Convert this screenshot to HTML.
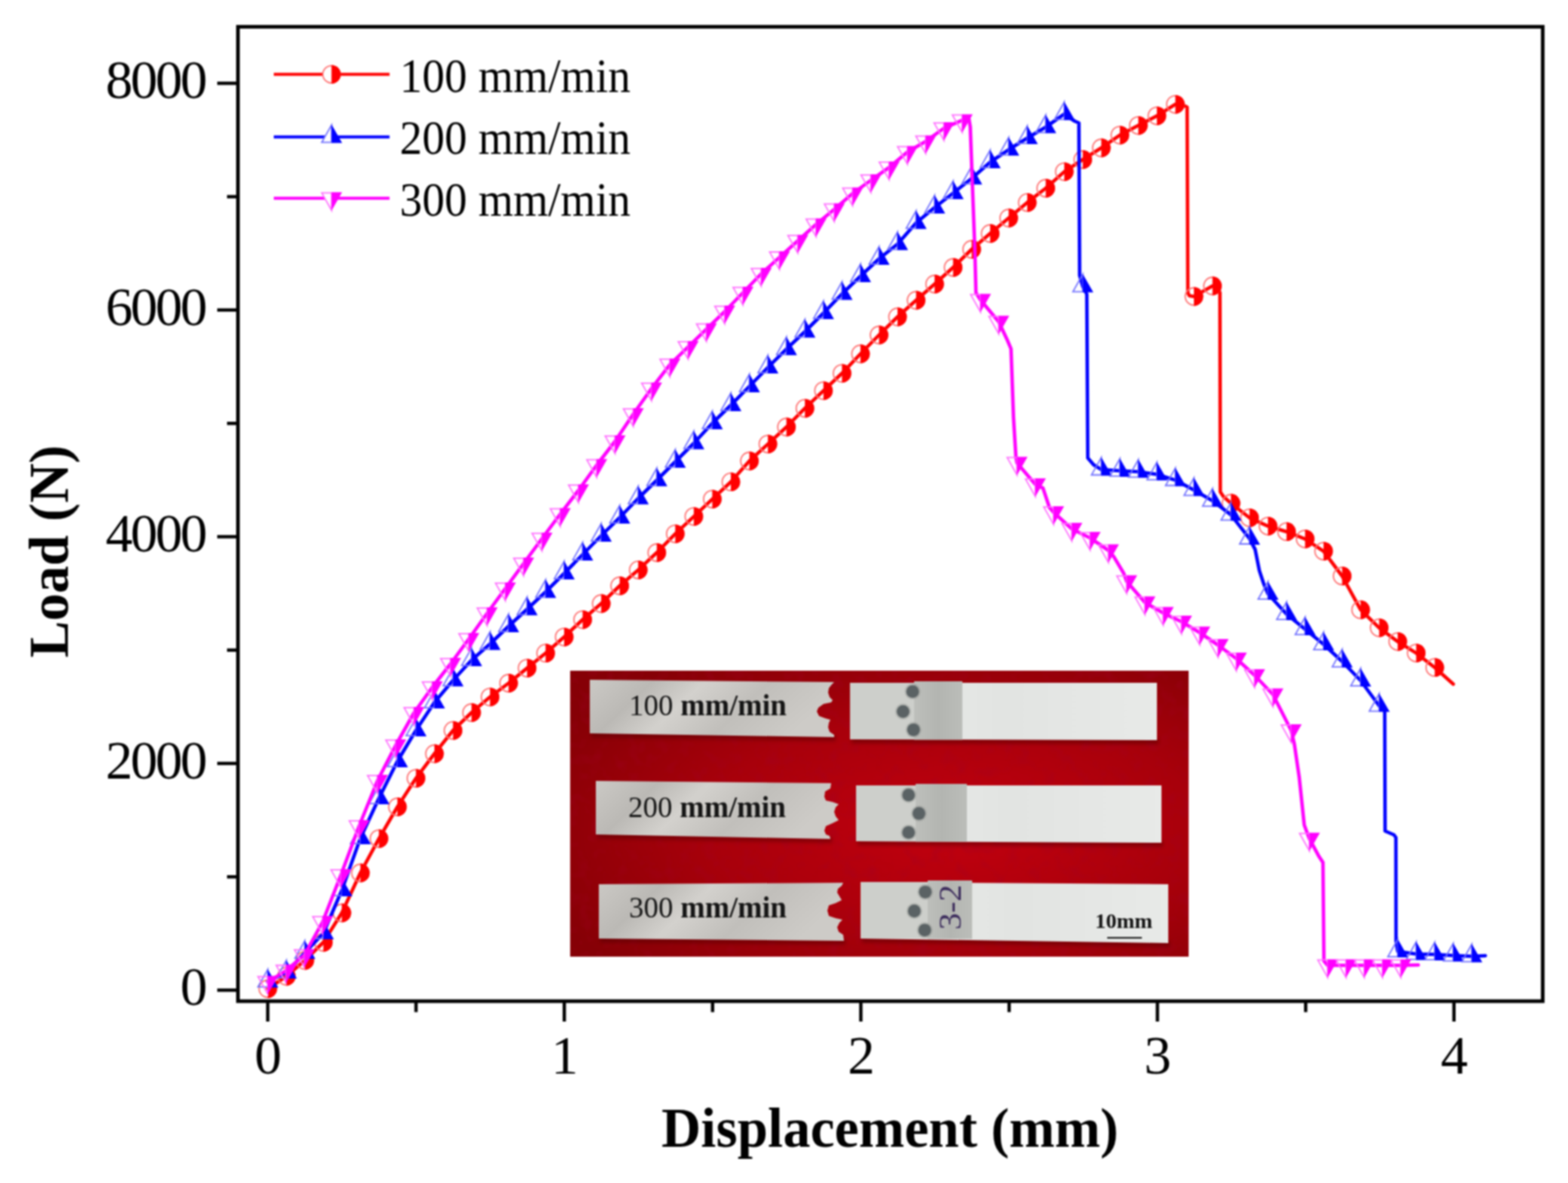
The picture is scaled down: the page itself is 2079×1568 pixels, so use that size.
<!DOCTYPE html>
<html><head><meta charset="utf-8"><title>Load vs Displacement</title>
<style>html,body{margin:0;padding:0;background:#fff;}svg{display:block;}#wrap{width:2079px;height:1568px;filter:blur(1px);}</style>
</head><body><div id="wrap">
<svg width="2079" height="1568" viewBox="0 0 2079 1568"><rect x="0" y="0" width="2079" height="1568" fill="#fff"/>
<defs>
<filter id="blur3" x="-5%" y="-50%" width="110%" height="200%"><feGaussianBlur stdDeviation="2.5"/></filter>
<radialGradient id="velvet" cx="0.62" cy="0.55" r="0.72">
  <stop offset="0" stop-color="#c2000f"/>
  <stop offset="0.55" stop-color="#a8000b"/>
  <stop offset="1" stop-color="#860006"/>
</radialGradient>
<filter id="velnoise" x="0" y="0" width="100%" height="100%">
  <feTurbulence type="fractalNoise" baseFrequency="0.06" numOctaves="2" seed="7" result="n"/>
  <feColorMatrix in="n" type="matrix" values="0 0 0 0 0.35  0 0 0 0 0  0 0 0 0 0.02  1.6 0 0 0 -0.75" result="c"/>
  <feComposite in="c" in2="SourceGraphic" operator="in"/>
</filter>
<linearGradient id="metalL" x1="0" y1="0" x2="1" y2="0.25">
  <stop offset="0" stop-color="#cbc9c5"/>
  <stop offset="0.25" stop-color="#bbb9b5"/>
  <stop offset="0.45" stop-color="#d3d1cd"/>
  <stop offset="0.7" stop-color="#c1bfbb"/>
  <stop offset="1" stop-color="#cdcbc7"/>
</linearGradient>
<linearGradient id="metalD" x1="0" y1="0" x2="1" y2="0">
  <stop offset="0" stop-color="#bdbfbb"/>
  <stop offset="0.5" stop-color="#b3b5b1"/>
  <stop offset="1" stop-color="#bbbdb9"/>
</linearGradient>
<linearGradient id="metalB" x1="0" y1="0" x2="1" y2="0">
  <stop offset="0" stop-color="#eceeec"/>
  <stop offset="0.5" stop-color="#e2e4e2"/>
  <stop offset="1" stop-color="#e8eae8"/>
</linearGradient>
</defs>
<rect x="756" y="889" width="820" height="379" fill="url(#velvet)"/>
<rect x="756" y="889" width="820" height="379" fill="#000" filter="url(#velnoise)" opacity="0.5"/>
<path d="M784.0,970.0 L1108.0,975.0 L1108.0,982.0 L784.0,977.0 Z" fill="#4a0004" opacity="0.45" filter="url(#blur3)"/>
<path d="M782.0,901.0 L1106.0,904.0 L1103.0,907.0 L1099.0,912.0 L1098.0,918.0 L1100.0,924.0 L1104.0,928.0 L1102.0,931.0 L1092.0,933.0 L1085.0,938.0 L1083.0,943.0 L1086.0,949.0 L1094.0,952.0 L1101.0,954.0 L1099.0,958.0 L1098.0,964.0 L1100.0,970.0 L1106.0,974.0 L1106.0,977.0 L782.0,972.0 Z" fill="url(#metalL)"/>
<path d="M792.0,1104.0 L1103.0,1110.0 L1103.0,1117.0 L792.0,1111.0 Z" fill="#4a0004" opacity="0.45" filter="url(#blur3)"/>
<path d="M790.0,1035.0 L1102.0,1038.0 L1101.0,1045.0 L1094.0,1049.0 L1093.0,1056.0 L1095.0,1061.0 L1104.0,1063.0 L1112.0,1066.0 L1108.0,1070.0 L1106.0,1076.0 L1108.0,1082.0 L1112.0,1087.0 L1104.0,1091.0 L1095.0,1095.0 L1093.0,1101.0 L1095.0,1106.0 L1100.0,1108.0 L1101.0,1112.0 L790.0,1106.0 Z" fill="url(#metalL)"/>
<path d="M796.0,1242.0 L1121.0,1245.0 L1121.0,1252.0 L796.0,1249.0 Z" fill="#4a0004" opacity="0.45" filter="url(#blur3)"/>
<path d="M794.0,1172.0 L1118.0,1170.0 L1116.0,1174.0 L1111.0,1178.0 L1110.0,1183.0 L1113.0,1188.0 L1116.0,1193.0 L1108.0,1197.0 L1099.0,1200.0 L1097.0,1207.0 L1099.0,1214.0 L1108.0,1217.0 L1117.0,1219.0 L1113.0,1223.0 L1110.0,1229.0 L1112.0,1235.0 L1118.0,1239.0 L1119.0,1247.0 L794.0,1244.0 Z" fill="url(#metalL)"/>
<path d="M1129.0,978.0 L1536.0,979.0 L1536.0,986.0 L1129.0,985.0 Z" fill="#4a0004" opacity="0.45" filter="url(#blur3)"/>
<path d="M1127.0,905.0 L1534.0,905.0 L1534.0,981.0 L1127.0,980.0 Z" fill="url(#metalB)"/>
<path d="M1127.0,905.0 L1212.0,905.0 L1212.0,980.0 L1127.0,980.0 Z" fill="#cdcfcb"/>
<path d="M1212.0,903.0 L1276.0,903.0 L1276.0,980.5 L1212.0,980.5 Z" fill="url(#metalD)"/>
<path d="M1137.0,1113.0 L1542.0,1115.0 L1542.0,1122.0 L1137.0,1120.0 Z" fill="#4a0004" opacity="0.45" filter="url(#blur3)"/>
<path d="M1135.0,1041.0 L1540.0,1041.0 L1540.0,1117.0 L1135.0,1115.0 Z" fill="url(#metalB)"/>
<path d="M1135.0,1041.0 L1214.0,1041.0 L1214.0,1115.0 L1135.0,1115.0 Z" fill="#cdcfcb"/>
<path d="M1214.0,1039.0 L1282.0,1039.0 L1282.0,1115.5 L1214.0,1115.5 Z" fill="url(#metalD)"/>
<path d="M1143.0,1242.0 L1551.0,1248.0 L1551.0,1255.0 L1143.0,1249.0 Z" fill="#4a0004" opacity="0.45" filter="url(#blur3)"/>
<path d="M1141.0,1169.0 L1549.0,1172.0 L1549.0,1250.0 L1141.0,1244.0 Z" fill="url(#metalB)"/>
<path d="M1141.0,1169.0 L1230.0,1169.0 L1230.0,1244.0 L1141.0,1244.0 Z" fill="#cdcfcb"/>
<path d="M1230.0,1167.0 L1289.0,1167.0 L1289.0,1244.5 L1230.0,1244.5 Z" fill="url(#metalD)"/>
<circle cx="1210.0" cy="916.6" r="10.5" fill="#7a7e7c" opacity="0.35"/>
<circle cx="1210.0" cy="916.6" r="8.4" fill="#5a6264"/>
<circle cx="1197.4" cy="943.1" r="10.5" fill="#7a7e7c" opacity="0.35"/>
<circle cx="1197.4" cy="943.1" r="8.4" fill="#5a6264"/>
<circle cx="1211.2" cy="967.3" r="10.5" fill="#7a7e7c" opacity="0.35"/>
<circle cx="1211.2" cy="967.3" r="8.4" fill="#5a6264"/>
<circle cx="1204.7" cy="1053.7" r="10.5" fill="#7a7e7c" opacity="0.35"/>
<circle cx="1204.7" cy="1053.7" r="8.4" fill="#5a6264"/>
<circle cx="1218.4" cy="1078.2" r="10.5" fill="#7a7e7c" opacity="0.35"/>
<circle cx="1218.4" cy="1078.2" r="8.4" fill="#5a6264"/>
<circle cx="1204.7" cy="1103.4" r="10.5" fill="#7a7e7c" opacity="0.35"/>
<circle cx="1204.7" cy="1103.4" r="8.4" fill="#5a6264"/>
<circle cx="1226.8" cy="1182.3" r="10.5" fill="#7a7e7c" opacity="0.35"/>
<circle cx="1226.8" cy="1182.3" r="8.4" fill="#5a6264"/>
<circle cx="1212.3" cy="1207.5" r="10.5" fill="#7a7e7c" opacity="0.35"/>
<circle cx="1212.3" cy="1207.5" r="8.4" fill="#5a6264"/>
<circle cx="1226.1" cy="1232.8" r="10.5" fill="#7a7e7c" opacity="0.35"/>
<circle cx="1226.1" cy="1232.8" r="8.4" fill="#5a6264"/>
<text x="834.0" y="948.0" style="font-family:'Liberation Serif','Times New Roman',serif;font-size:41px" fill="#151515" textLength="209" lengthAdjust="spacingAndGlyphs">100 <tspan font-weight="bold">mm/min</tspan></text>
<text x="833.0" y="1083.0" style="font-family:'Liberation Serif','Times New Roman',serif;font-size:41px" fill="#151515" textLength="209" lengthAdjust="spacingAndGlyphs">200 <tspan font-weight="bold">mm/min</tspan></text>
<text x="834.0" y="1215.5" style="font-family:'Liberation Serif','Times New Roman',serif;font-size:41px" fill="#151515" textLength="209" lengthAdjust="spacingAndGlyphs">300 <tspan font-weight="bold">mm/min</tspan></text>
<text x="1452" y="1230" style="font-family:'Liberation Serif','Times New Roman',serif;font-size:27px;font-weight:bold" fill="#111" textLength="76" lengthAdjust="spacingAndGlyphs">10mm</text>
<line x1="1468" y1="1243" x2="1514" y2="1243" stroke="#111" stroke-width="2"/>
<text transform="translate(1274,1202.5) rotate(-90)" style="font-family:'Liberation Serif','Times New Roman',serif;font-size:42px" fill="#3c2c5c" text-anchor="middle" textLength="60" lengthAdjust="spacingAndGlyphs">3-2</text>
<rect x="315.5" y="35.5" width="1730" height="1291.5" fill="none" stroke="#000" stroke-width="4.8"/>
<line x1="355.0" y1="1327" x2="355.0" y2="1354.0" stroke="#000" stroke-width="4.4"/>
<line x1="551.6" y1="1327" x2="551.6" y2="1341.5" stroke="#000" stroke-width="4.4"/>
<line x1="748.2" y1="1327" x2="748.2" y2="1354.0" stroke="#000" stroke-width="4.4"/>
<line x1="944.8" y1="1327" x2="944.8" y2="1341.5" stroke="#000" stroke-width="4.4"/>
<line x1="1141.4" y1="1327" x2="1141.4" y2="1354.0" stroke="#000" stroke-width="4.4"/>
<line x1="1338.0" y1="1327" x2="1338.0" y2="1341.5" stroke="#000" stroke-width="4.4"/>
<line x1="1534.6" y1="1327" x2="1534.6" y2="1354.0" stroke="#000" stroke-width="4.4"/>
<line x1="1731.2" y1="1327" x2="1731.2" y2="1341.5" stroke="#000" stroke-width="4.4"/>
<line x1="1927.8" y1="1327" x2="1927.8" y2="1354.0" stroke="#000" stroke-width="4.4"/>
<line x1="288.0" y1="1312.4" x2="315.5" y2="1312.4" stroke="#000" stroke-width="4.4"/>
<line x1="301.0" y1="1162.2" x2="315.5" y2="1162.2" stroke="#000" stroke-width="4.4"/>
<line x1="288.0" y1="1011.9" x2="315.5" y2="1011.9" stroke="#000" stroke-width="4.4"/>
<line x1="301.0" y1="861.7" x2="315.5" y2="861.7" stroke="#000" stroke-width="4.4"/>
<line x1="288.0" y1="711.4" x2="315.5" y2="711.4" stroke="#000" stroke-width="4.4"/>
<line x1="301.0" y1="561.2" x2="315.5" y2="561.2" stroke="#000" stroke-width="4.4"/>
<line x1="288.0" y1="410.9" x2="315.5" y2="410.9" stroke="#000" stroke-width="4.4"/>
<line x1="301.0" y1="260.7" x2="315.5" y2="260.7" stroke="#000" stroke-width="4.4"/>
<line x1="288.0" y1="110.4" x2="315.5" y2="110.4" stroke="#000" stroke-width="4.4"/>
<text x="355.5" y="1423" text-anchor="middle" style="font-family:'Liberation Serif','Times New Roman',serif;font-size:72px" fill="#000">0</text>
<text x="748.7" y="1423" text-anchor="middle" style="font-family:'Liberation Serif','Times New Roman',serif;font-size:72px" fill="#000">1</text>
<text x="1141.9" y="1423" text-anchor="middle" style="font-family:'Liberation Serif','Times New Roman',serif;font-size:72px" fill="#000">2</text>
<text x="1535.1" y="1423" text-anchor="middle" style="font-family:'Liberation Serif','Times New Roman',serif;font-size:72px" fill="#000">3</text>
<text x="1928.3" y="1423" text-anchor="middle" style="font-family:'Liberation Serif','Times New Roman',serif;font-size:72px" fill="#000">4</text>
<text x="272.0" y="1332.1" text-anchor="end" style="font-family:'Liberation Serif','Times New Roman',serif;font-size:72px;letter-spacing:-3px" fill="#000">0</text>
<text x="272.0" y="1031.6" text-anchor="end" style="font-family:'Liberation Serif','Times New Roman',serif;font-size:72px;letter-spacing:-3px" fill="#000">2000</text>
<text x="272.0" y="731.1" text-anchor="end" style="font-family:'Liberation Serif','Times New Roman',serif;font-size:72px;letter-spacing:-3px" fill="#000">4000</text>
<text x="272.0" y="430.6" text-anchor="end" style="font-family:'Liberation Serif','Times New Roman',serif;font-size:72px;letter-spacing:-3px" fill="#000">6000</text>
<text x="272.0" y="130.1" text-anchor="end" style="font-family:'Liberation Serif','Times New Roman',serif;font-size:72px;letter-spacing:-3px" fill="#000">8000</text>
<text x="1180" y="1520" text-anchor="middle" style="font-family:'Liberation Serif','Times New Roman',serif;font-size:73px;font-weight:bold" fill="#000" textLength="606" lengthAdjust="spacingAndGlyphs">Displacement (mm)</text>
<text transform="translate(90.2,730.8) rotate(-90)" text-anchor="middle" style="font-family:'Liberation Serif','Times New Roman',serif;font-size:74px;font-weight:bold" fill="#000" textLength="282" lengthAdjust="spacingAndGlyphs">Load (N)</text>
<line x1="363" y1="98.6" x2="516.5" y2="98.6" stroke="#ff0000" stroke-width="4"/>
<circle cx="439.5" cy="98.6" r="11.5" fill="#fff" stroke="#ff7070" stroke-width="1.8"/><path d="M439.5,86.2 A12.4,12.4 0 0 1 439.5,111.0 Z" fill="#ff0000"/>
<text x="530.0" y="122.3" style="font-family:'Liberation Serif','Times New Roman',serif;font-size:64px" fill="#000" textLength="306.0" lengthAdjust="spacingAndGlyphs">100 mm/min</text>
<line x1="363" y1="181.6" x2="516.5" y2="181.6" stroke="#0000ff" stroke-width="4"/>
<path d="M439.6,165.6 L426.6,188.7 L439.6,188.7 Z" fill="#fff" stroke="#7070ff" stroke-width="1.8" stroke-linejoin="miter"/><path d="M439.6,165.1 L453.6,189.6 L439.6,189.6 Z" fill="#0000ff"/>
<text x="530.0" y="203.7" style="font-family:'Liberation Serif','Times New Roman',serif;font-size:64px" fill="#000" textLength="306.0" lengthAdjust="spacingAndGlyphs">200 mm/min</text>
<line x1="363" y1="262.7" x2="516.5" y2="262.7" stroke="#ff00ff" stroke-width="4"/>
<path d="M439.6,278.7 L426.6,255.6 L439.6,255.6 Z" fill="#fff" stroke="#ff70ff" stroke-width="1.8" stroke-linejoin="miter"/><path d="M439.6,279.2 L453.6,254.7 L439.6,254.7 Z" fill="#ff00ff"/>
<text x="530.0" y="286.0" style="font-family:'Liberation Serif','Times New Roman',serif;font-size:64px" fill="#000" textLength="306.0" lengthAdjust="spacingAndGlyphs">300 mm/min</text>
<polyline points="355.0,1310.5 379.6,1294.0 404.1,1273.0 428.7,1249.0 453.2,1210.0 477.8,1157.0 502.4,1111.6 526.9,1069.5 551.5,1031.6 576.0,999.0 600.6,968.2 625.2,944.5 649.7,923.8 674.3,905.5 698.8,885.6 723.4,865.7 748.0,844.3 772.5,821.3 797.1,800.0 821.6,776.5 846.2,755.4 870.8,732.5 895.3,707.6 919.9,684.6 944.4,661.6 969.0,638.7 993.6,611.0 1018.1,588.6 1042.7,566.0 1067.2,541.2 1091.8,517.8 1116.4,494.8 1140.9,469.0 1165.5,444.0 1190.0,420.0 1214.6,398.0 1239.2,376.5 1263.7,354.5 1288.3,330.5 1312.8,309.5 1337.4,289.0 1362.0,268.4 1386.5,249.5 1411.1,227.6 1435.6,211.5 1460.2,196.0 1484.8,179.1 1509.3,166.3 1533.9,153.6 1558.4,138.3 1569.0,139.5 1574.0,142.0 1575.0,388.0 1577.0,392.0 1583.0,393.0 1607.6,379.0 1614.5,381.0 1617.5,388.0 1618.0,652.0 1622.0,658.0 1632.1,667.0 1656.7,686.3 1681.2,697.3 1705.8,704.7 1730.4,714.3 1754.9,730.6 1779.5,763.5 1804.0,808.2 1828.6,832.1 1853.2,850.3 1877.7,865.6 1902.3,884.7 1926.9,906.7" fill="none" stroke="#ff0000" stroke-width="4.6" stroke-linejoin="round" stroke-linecap="round"/>
<circle cx="355.0" cy="1310.5" r="11.5" fill="none" stroke="#ff7070" stroke-width="1.8"/><path d="M355.0,1298.1 A12.4,12.4 0 0 1 355.0,1322.9 Z" fill="#ff0000"/>
<circle cx="379.6" cy="1294.0" r="11.5" fill="none" stroke="#ff7070" stroke-width="1.8"/><path d="M379.6,1281.6 A12.4,12.4 0 0 1 379.6,1306.4 Z" fill="#ff0000"/>
<circle cx="404.1" cy="1273.0" r="11.5" fill="none" stroke="#ff7070" stroke-width="1.8"/><path d="M404.1,1260.6 A12.4,12.4 0 0 1 404.1,1285.4 Z" fill="#ff0000"/>
<circle cx="428.7" cy="1249.0" r="11.5" fill="none" stroke="#ff7070" stroke-width="1.8"/><path d="M428.7,1236.6 A12.4,12.4 0 0 1 428.7,1261.4 Z" fill="#ff0000"/>
<circle cx="453.2" cy="1210.0" r="11.5" fill="none" stroke="#ff7070" stroke-width="1.8"/><path d="M453.2,1197.6 A12.4,12.4 0 0 1 453.2,1222.4 Z" fill="#ff0000"/>
<circle cx="477.8" cy="1157.0" r="11.5" fill="none" stroke="#ff7070" stroke-width="1.8"/><path d="M477.8,1144.6 A12.4,12.4 0 0 1 477.8,1169.4 Z" fill="#ff0000"/>
<circle cx="502.4" cy="1111.6" r="11.5" fill="none" stroke="#ff7070" stroke-width="1.8"/><path d="M502.4,1099.2 A12.4,12.4 0 0 1 502.4,1124.0 Z" fill="#ff0000"/>
<circle cx="526.9" cy="1069.5" r="11.5" fill="none" stroke="#ff7070" stroke-width="1.8"/><path d="M526.9,1057.1 A12.4,12.4 0 0 1 526.9,1081.9 Z" fill="#ff0000"/>
<circle cx="551.5" cy="1031.6" r="11.5" fill="none" stroke="#ff7070" stroke-width="1.8"/><path d="M551.5,1019.2 A12.4,12.4 0 0 1 551.5,1044.0 Z" fill="#ff0000"/>
<circle cx="576.0" cy="999.0" r="11.5" fill="none" stroke="#ff7070" stroke-width="1.8"/><path d="M576.0,986.6 A12.4,12.4 0 0 1 576.0,1011.4 Z" fill="#ff0000"/>
<circle cx="600.6" cy="968.2" r="11.5" fill="none" stroke="#ff7070" stroke-width="1.8"/><path d="M600.6,955.8 A12.4,12.4 0 0 1 600.6,980.6 Z" fill="#ff0000"/>
<circle cx="625.2" cy="944.5" r="11.5" fill="none" stroke="#ff7070" stroke-width="1.8"/><path d="M625.2,932.1 A12.4,12.4 0 0 1 625.2,956.9 Z" fill="#ff0000"/>
<circle cx="649.7" cy="923.8" r="11.5" fill="none" stroke="#ff7070" stroke-width="1.8"/><path d="M649.7,911.4 A12.4,12.4 0 0 1 649.7,936.2 Z" fill="#ff0000"/>
<circle cx="674.3" cy="905.5" r="11.5" fill="none" stroke="#ff7070" stroke-width="1.8"/><path d="M674.3,893.1 A12.4,12.4 0 0 1 674.3,917.9 Z" fill="#ff0000"/>
<circle cx="698.8" cy="885.6" r="11.5" fill="none" stroke="#ff7070" stroke-width="1.8"/><path d="M698.8,873.2 A12.4,12.4 0 0 1 698.8,898.0 Z" fill="#ff0000"/>
<circle cx="723.4" cy="865.7" r="11.5" fill="none" stroke="#ff7070" stroke-width="1.8"/><path d="M723.4,853.3 A12.4,12.4 0 0 1 723.4,878.1 Z" fill="#ff0000"/>
<circle cx="748.0" cy="844.3" r="11.5" fill="none" stroke="#ff7070" stroke-width="1.8"/><path d="M748.0,831.9 A12.4,12.4 0 0 1 748.0,856.7 Z" fill="#ff0000"/>
<circle cx="772.5" cy="821.3" r="11.5" fill="none" stroke="#ff7070" stroke-width="1.8"/><path d="M772.5,808.9 A12.4,12.4 0 0 1 772.5,833.7 Z" fill="#ff0000"/>
<circle cx="797.1" cy="800.0" r="11.5" fill="none" stroke="#ff7070" stroke-width="1.8"/><path d="M797.1,787.6 A12.4,12.4 0 0 1 797.1,812.4 Z" fill="#ff0000"/>
<circle cx="821.6" cy="776.5" r="11.5" fill="none" stroke="#ff7070" stroke-width="1.8"/><path d="M821.6,764.1 A12.4,12.4 0 0 1 821.6,788.9 Z" fill="#ff0000"/>
<circle cx="846.2" cy="755.4" r="11.5" fill="none" stroke="#ff7070" stroke-width="1.8"/><path d="M846.2,743.0 A12.4,12.4 0 0 1 846.2,767.8 Z" fill="#ff0000"/>
<circle cx="870.8" cy="732.5" r="11.5" fill="none" stroke="#ff7070" stroke-width="1.8"/><path d="M870.8,720.1 A12.4,12.4 0 0 1 870.8,744.9 Z" fill="#ff0000"/>
<circle cx="895.3" cy="707.6" r="11.5" fill="none" stroke="#ff7070" stroke-width="1.8"/><path d="M895.3,695.2 A12.4,12.4 0 0 1 895.3,720.0 Z" fill="#ff0000"/>
<circle cx="919.9" cy="684.6" r="11.5" fill="none" stroke="#ff7070" stroke-width="1.8"/><path d="M919.9,672.2 A12.4,12.4 0 0 1 919.9,697.0 Z" fill="#ff0000"/>
<circle cx="944.4" cy="661.6" r="11.5" fill="none" stroke="#ff7070" stroke-width="1.8"/><path d="M944.4,649.2 A12.4,12.4 0 0 1 944.4,674.0 Z" fill="#ff0000"/>
<circle cx="969.0" cy="638.7" r="11.5" fill="none" stroke="#ff7070" stroke-width="1.8"/><path d="M969.0,626.3 A12.4,12.4 0 0 1 969.0,651.1 Z" fill="#ff0000"/>
<circle cx="993.6" cy="611.0" r="11.5" fill="none" stroke="#ff7070" stroke-width="1.8"/><path d="M993.6,598.6 A12.4,12.4 0 0 1 993.6,623.4 Z" fill="#ff0000"/>
<circle cx="1018.1" cy="588.6" r="11.5" fill="none" stroke="#ff7070" stroke-width="1.8"/><path d="M1018.1,576.2 A12.4,12.4 0 0 1 1018.1,601.0 Z" fill="#ff0000"/>
<circle cx="1042.7" cy="566.0" r="11.5" fill="none" stroke="#ff7070" stroke-width="1.8"/><path d="M1042.7,553.6 A12.4,12.4 0 0 1 1042.7,578.4 Z" fill="#ff0000"/>
<circle cx="1067.2" cy="541.2" r="11.5" fill="none" stroke="#ff7070" stroke-width="1.8"/><path d="M1067.2,528.8 A12.4,12.4 0 0 1 1067.2,553.6 Z" fill="#ff0000"/>
<circle cx="1091.8" cy="517.8" r="11.5" fill="none" stroke="#ff7070" stroke-width="1.8"/><path d="M1091.8,505.4 A12.4,12.4 0 0 1 1091.8,530.2 Z" fill="#ff0000"/>
<circle cx="1116.4" cy="494.8" r="11.5" fill="none" stroke="#ff7070" stroke-width="1.8"/><path d="M1116.4,482.4 A12.4,12.4 0 0 1 1116.4,507.2 Z" fill="#ff0000"/>
<circle cx="1140.9" cy="469.0" r="11.5" fill="none" stroke="#ff7070" stroke-width="1.8"/><path d="M1140.9,456.6 A12.4,12.4 0 0 1 1140.9,481.4 Z" fill="#ff0000"/>
<circle cx="1165.5" cy="444.0" r="11.5" fill="none" stroke="#ff7070" stroke-width="1.8"/><path d="M1165.5,431.6 A12.4,12.4 0 0 1 1165.5,456.4 Z" fill="#ff0000"/>
<circle cx="1190.0" cy="420.0" r="11.5" fill="none" stroke="#ff7070" stroke-width="1.8"/><path d="M1190.0,407.6 A12.4,12.4 0 0 1 1190.0,432.4 Z" fill="#ff0000"/>
<circle cx="1214.6" cy="398.0" r="11.5" fill="none" stroke="#ff7070" stroke-width="1.8"/><path d="M1214.6,385.6 A12.4,12.4 0 0 1 1214.6,410.4 Z" fill="#ff0000"/>
<circle cx="1239.2" cy="376.5" r="11.5" fill="none" stroke="#ff7070" stroke-width="1.8"/><path d="M1239.2,364.1 A12.4,12.4 0 0 1 1239.2,388.9 Z" fill="#ff0000"/>
<circle cx="1263.7" cy="354.5" r="11.5" fill="none" stroke="#ff7070" stroke-width="1.8"/><path d="M1263.7,342.1 A12.4,12.4 0 0 1 1263.7,366.9 Z" fill="#ff0000"/>
<circle cx="1288.3" cy="330.5" r="11.5" fill="none" stroke="#ff7070" stroke-width="1.8"/><path d="M1288.3,318.1 A12.4,12.4 0 0 1 1288.3,342.9 Z" fill="#ff0000"/>
<circle cx="1312.8" cy="309.5" r="11.5" fill="none" stroke="#ff7070" stroke-width="1.8"/><path d="M1312.8,297.1 A12.4,12.4 0 0 1 1312.8,321.9 Z" fill="#ff0000"/>
<circle cx="1337.4" cy="289.0" r="11.5" fill="none" stroke="#ff7070" stroke-width="1.8"/><path d="M1337.4,276.6 A12.4,12.4 0 0 1 1337.4,301.4 Z" fill="#ff0000"/>
<circle cx="1362.0" cy="268.4" r="11.5" fill="none" stroke="#ff7070" stroke-width="1.8"/><path d="M1362.0,256.0 A12.4,12.4 0 0 1 1362.0,280.8 Z" fill="#ff0000"/>
<circle cx="1386.5" cy="249.5" r="11.5" fill="none" stroke="#ff7070" stroke-width="1.8"/><path d="M1386.5,237.1 A12.4,12.4 0 0 1 1386.5,261.9 Z" fill="#ff0000"/>
<circle cx="1411.1" cy="227.6" r="11.5" fill="none" stroke="#ff7070" stroke-width="1.8"/><path d="M1411.1,215.2 A12.4,12.4 0 0 1 1411.1,240.0 Z" fill="#ff0000"/>
<circle cx="1435.6" cy="211.5" r="11.5" fill="none" stroke="#ff7070" stroke-width="1.8"/><path d="M1435.6,199.1 A12.4,12.4 0 0 1 1435.6,223.9 Z" fill="#ff0000"/>
<circle cx="1460.2" cy="196.0" r="11.5" fill="none" stroke="#ff7070" stroke-width="1.8"/><path d="M1460.2,183.6 A12.4,12.4 0 0 1 1460.2,208.4 Z" fill="#ff0000"/>
<circle cx="1484.8" cy="179.1" r="11.5" fill="none" stroke="#ff7070" stroke-width="1.8"/><path d="M1484.8,166.7 A12.4,12.4 0 0 1 1484.8,191.5 Z" fill="#ff0000"/>
<circle cx="1509.3" cy="166.3" r="11.5" fill="none" stroke="#ff7070" stroke-width="1.8"/><path d="M1509.3,153.9 A12.4,12.4 0 0 1 1509.3,178.7 Z" fill="#ff0000"/>
<circle cx="1533.9" cy="153.6" r="11.5" fill="none" stroke="#ff7070" stroke-width="1.8"/><path d="M1533.9,141.2 A12.4,12.4 0 0 1 1533.9,166.0 Z" fill="#ff0000"/>
<circle cx="1558.4" cy="138.3" r="11.5" fill="none" stroke="#ff7070" stroke-width="1.8"/><path d="M1558.4,125.9 A12.4,12.4 0 0 1 1558.4,150.7 Z" fill="#ff0000"/>
<circle cx="1583.0" cy="393.0" r="11.5" fill="none" stroke="#ff7070" stroke-width="1.8"/><path d="M1583.0,380.6 A12.4,12.4 0 0 1 1583.0,405.4 Z" fill="#ff0000"/>
<circle cx="1607.6" cy="379.0" r="11.5" fill="none" stroke="#ff7070" stroke-width="1.8"/><path d="M1607.6,366.6 A12.4,12.4 0 0 1 1607.6,391.4 Z" fill="#ff0000"/>
<circle cx="1632.1" cy="667.0" r="11.5" fill="none" stroke="#ff7070" stroke-width="1.8"/><path d="M1632.1,654.6 A12.4,12.4 0 0 1 1632.1,679.4 Z" fill="#ff0000"/>
<circle cx="1656.7" cy="686.3" r="11.5" fill="none" stroke="#ff7070" stroke-width="1.8"/><path d="M1656.7,673.9 A12.4,12.4 0 0 1 1656.7,698.7 Z" fill="#ff0000"/>
<circle cx="1681.2" cy="697.3" r="11.5" fill="none" stroke="#ff7070" stroke-width="1.8"/><path d="M1681.2,684.9 A12.4,12.4 0 0 1 1681.2,709.7 Z" fill="#ff0000"/>
<circle cx="1705.8" cy="704.7" r="11.5" fill="none" stroke="#ff7070" stroke-width="1.8"/><path d="M1705.8,692.3 A12.4,12.4 0 0 1 1705.8,717.1 Z" fill="#ff0000"/>
<circle cx="1730.4" cy="714.3" r="11.5" fill="none" stroke="#ff7070" stroke-width="1.8"/><path d="M1730.4,701.9 A12.4,12.4 0 0 1 1730.4,726.7 Z" fill="#ff0000"/>
<circle cx="1754.9" cy="730.6" r="11.5" fill="none" stroke="#ff7070" stroke-width="1.8"/><path d="M1754.9,718.2 A12.4,12.4 0 0 1 1754.9,743.0 Z" fill="#ff0000"/>
<circle cx="1779.5" cy="763.5" r="11.5" fill="none" stroke="#ff7070" stroke-width="1.8"/><path d="M1779.5,751.1 A12.4,12.4 0 0 1 1779.5,775.9 Z" fill="#ff0000"/>
<circle cx="1804.0" cy="808.2" r="11.5" fill="none" stroke="#ff7070" stroke-width="1.8"/><path d="M1804.0,795.8 A12.4,12.4 0 0 1 1804.0,820.6 Z" fill="#ff0000"/>
<circle cx="1828.6" cy="832.1" r="11.5" fill="none" stroke="#ff7070" stroke-width="1.8"/><path d="M1828.6,819.7 A12.4,12.4 0 0 1 1828.6,844.5 Z" fill="#ff0000"/>
<circle cx="1853.2" cy="850.3" r="11.5" fill="none" stroke="#ff7070" stroke-width="1.8"/><path d="M1853.2,837.9 A12.4,12.4 0 0 1 1853.2,862.7 Z" fill="#ff0000"/>
<circle cx="1877.7" cy="865.6" r="11.5" fill="none" stroke="#ff7070" stroke-width="1.8"/><path d="M1877.7,853.2 A12.4,12.4 0 0 1 1877.7,878.0 Z" fill="#ff0000"/>
<circle cx="1902.3" cy="884.7" r="11.5" fill="none" stroke="#ff7070" stroke-width="1.8"/><path d="M1902.3,872.3 A12.4,12.4 0 0 1 1902.3,897.1 Z" fill="#ff0000"/>
<polyline points="355.0,1301.0 379.6,1289.0 404.1,1263.0 428.7,1237.0 453.2,1180.0 477.8,1111.0 502.4,1058.0 526.9,1009.0 551.5,968.0 576.0,931.0 600.6,901.7 625.2,875.0 649.7,853.5 674.3,830.0 698.8,807.5 723.4,784.5 748.0,760.0 772.5,735.0 797.1,710.0 821.6,686.0 846.2,660.5 870.8,636.5 895.3,612.0 919.9,587.5 944.4,561.0 969.0,537.0 993.6,512.0 1018.1,487.0 1042.7,462.7 1067.2,439.5 1091.8,415.0 1116.4,389.5 1140.9,366.0 1165.5,343.0 1190.0,323.5 1214.6,295.5 1239.2,275.0 1263.7,256.0 1288.3,236.5 1312.8,215.0 1337.4,198.3 1362.0,183.0 1386.5,168.5 1411.1,151.2 1424.8,160.5 1430.5,163.0 1431.5,365.0 1435.6,379.5 1441.0,390.0 1442.3,607.0 1450.0,616.0 1460.2,622.4 1484.8,624.0 1509.3,625.2 1533.9,628.8 1558.4,636.4 1583.0,649.5 1607.6,663.7 1632.1,682.3 1656.7,713.9 1664.2,728.4 1669.8,756.4 1675.4,773.3 1681.2,787.0 1705.8,814.0 1730.4,834.0 1754.9,854.0 1779.5,876.7 1804.0,902.0 1828.6,935.5 1836.0,943.0 1836.5,1101.5 1848.2,1106.5 1850.8,1110.0 1851.0,1247.0 1853.2,1261.0 1877.7,1264.5 1902.3,1265.0 1926.8,1266.5 1951.4,1267.5 1969.4,1266.7" fill="none" stroke="#0000ff" stroke-width="4.6" stroke-linejoin="round" stroke-linecap="round"/>
<path d="M355.0,1285.0 L342.0,1308.1 L355.0,1308.1 Z" fill="none" stroke="#7070ff" stroke-width="1.8" stroke-linejoin="miter"/><path d="M355.0,1284.5 L369.0,1309.0 L355.0,1309.0 Z" fill="#0000ff"/>
<path d="M379.6,1273.0 L366.6,1296.1 L379.6,1296.1 Z" fill="none" stroke="#7070ff" stroke-width="1.8" stroke-linejoin="miter"/><path d="M379.6,1272.5 L393.6,1297.0 L379.6,1297.0 Z" fill="#0000ff"/>
<path d="M404.1,1247.0 L391.1,1270.1 L404.1,1270.1 Z" fill="none" stroke="#7070ff" stroke-width="1.8" stroke-linejoin="miter"/><path d="M404.1,1246.5 L418.1,1271.0 L404.1,1271.0 Z" fill="#0000ff"/>
<path d="M428.7,1221.0 L415.7,1244.1 L428.7,1244.1 Z" fill="none" stroke="#7070ff" stroke-width="1.8" stroke-linejoin="miter"/><path d="M428.7,1220.5 L442.7,1245.0 L428.7,1245.0 Z" fill="#0000ff"/>
<path d="M453.2,1164.0 L440.2,1187.1 L453.2,1187.1 Z" fill="none" stroke="#7070ff" stroke-width="1.8" stroke-linejoin="miter"/><path d="M453.2,1163.5 L467.2,1188.0 L453.2,1188.0 Z" fill="#0000ff"/>
<path d="M477.8,1095.0 L464.8,1118.1 L477.8,1118.1 Z" fill="none" stroke="#7070ff" stroke-width="1.8" stroke-linejoin="miter"/><path d="M477.8,1094.5 L491.8,1119.0 L477.8,1119.0 Z" fill="#0000ff"/>
<path d="M502.4,1042.0 L489.4,1065.1 L502.4,1065.1 Z" fill="none" stroke="#7070ff" stroke-width="1.8" stroke-linejoin="miter"/><path d="M502.4,1041.5 L516.4,1066.0 L502.4,1066.0 Z" fill="#0000ff"/>
<path d="M526.9,993.0 L513.9,1016.1 L526.9,1016.1 Z" fill="none" stroke="#7070ff" stroke-width="1.8" stroke-linejoin="miter"/><path d="M526.9,992.5 L540.9,1017.0 L526.9,1017.0 Z" fill="#0000ff"/>
<path d="M551.5,952.0 L538.5,975.1 L551.5,975.1 Z" fill="none" stroke="#7070ff" stroke-width="1.8" stroke-linejoin="miter"/><path d="M551.5,951.5 L565.5,976.0 L551.5,976.0 Z" fill="#0000ff"/>
<path d="M576.0,915.0 L563.0,938.1 L576.0,938.1 Z" fill="none" stroke="#7070ff" stroke-width="1.8" stroke-linejoin="miter"/><path d="M576.0,914.5 L590.0,939.0 L576.0,939.0 Z" fill="#0000ff"/>
<path d="M600.6,885.7 L587.6,908.8 L600.6,908.8 Z" fill="none" stroke="#7070ff" stroke-width="1.8" stroke-linejoin="miter"/><path d="M600.6,885.2 L614.6,909.7 L600.6,909.7 Z" fill="#0000ff"/>
<path d="M625.2,859.0 L612.2,882.1 L625.2,882.1 Z" fill="none" stroke="#7070ff" stroke-width="1.8" stroke-linejoin="miter"/><path d="M625.2,858.5 L639.2,883.0 L625.2,883.0 Z" fill="#0000ff"/>
<path d="M649.7,837.5 L636.7,860.6 L649.7,860.6 Z" fill="none" stroke="#7070ff" stroke-width="1.8" stroke-linejoin="miter"/><path d="M649.7,837.0 L663.7,861.5 L649.7,861.5 Z" fill="#0000ff"/>
<path d="M674.3,814.0 L661.3,837.1 L674.3,837.1 Z" fill="none" stroke="#7070ff" stroke-width="1.8" stroke-linejoin="miter"/><path d="M674.3,813.5 L688.3,838.0 L674.3,838.0 Z" fill="#0000ff"/>
<path d="M698.8,791.5 L685.8,814.6 L698.8,814.6 Z" fill="none" stroke="#7070ff" stroke-width="1.8" stroke-linejoin="miter"/><path d="M698.8,791.0 L712.8,815.5 L698.8,815.5 Z" fill="#0000ff"/>
<path d="M723.4,768.5 L710.4,791.6 L723.4,791.6 Z" fill="none" stroke="#7070ff" stroke-width="1.8" stroke-linejoin="miter"/><path d="M723.4,768.0 L737.4,792.5 L723.4,792.5 Z" fill="#0000ff"/>
<path d="M748.0,744.0 L735.0,767.1 L748.0,767.1 Z" fill="none" stroke="#7070ff" stroke-width="1.8" stroke-linejoin="miter"/><path d="M748.0,743.5 L762.0,768.0 L748.0,768.0 Z" fill="#0000ff"/>
<path d="M772.5,719.0 L759.5,742.1 L772.5,742.1 Z" fill="none" stroke="#7070ff" stroke-width="1.8" stroke-linejoin="miter"/><path d="M772.5,718.5 L786.5,743.0 L772.5,743.0 Z" fill="#0000ff"/>
<path d="M797.1,694.0 L784.1,717.1 L797.1,717.1 Z" fill="none" stroke="#7070ff" stroke-width="1.8" stroke-linejoin="miter"/><path d="M797.1,693.5 L811.1,718.0 L797.1,718.0 Z" fill="#0000ff"/>
<path d="M821.6,670.0 L808.6,693.1 L821.6,693.1 Z" fill="none" stroke="#7070ff" stroke-width="1.8" stroke-linejoin="miter"/><path d="M821.6,669.5 L835.6,694.0 L821.6,694.0 Z" fill="#0000ff"/>
<path d="M846.2,644.5 L833.2,667.6 L846.2,667.6 Z" fill="none" stroke="#7070ff" stroke-width="1.8" stroke-linejoin="miter"/><path d="M846.2,644.0 L860.2,668.5 L846.2,668.5 Z" fill="#0000ff"/>
<path d="M870.8,620.5 L857.8,643.6 L870.8,643.6 Z" fill="none" stroke="#7070ff" stroke-width="1.8" stroke-linejoin="miter"/><path d="M870.8,620.0 L884.8,644.5 L870.8,644.5 Z" fill="#0000ff"/>
<path d="M895.3,596.0 L882.3,619.1 L895.3,619.1 Z" fill="none" stroke="#7070ff" stroke-width="1.8" stroke-linejoin="miter"/><path d="M895.3,595.5 L909.3,620.0 L895.3,620.0 Z" fill="#0000ff"/>
<path d="M919.9,571.5 L906.9,594.6 L919.9,594.6 Z" fill="none" stroke="#7070ff" stroke-width="1.8" stroke-linejoin="miter"/><path d="M919.9,571.0 L933.9,595.5 L919.9,595.5 Z" fill="#0000ff"/>
<path d="M944.4,545.0 L931.4,568.1 L944.4,568.1 Z" fill="none" stroke="#7070ff" stroke-width="1.8" stroke-linejoin="miter"/><path d="M944.4,544.5 L958.4,569.0 L944.4,569.0 Z" fill="#0000ff"/>
<path d="M969.0,521.0 L956.0,544.1 L969.0,544.1 Z" fill="none" stroke="#7070ff" stroke-width="1.8" stroke-linejoin="miter"/><path d="M969.0,520.5 L983.0,545.0 L969.0,545.0 Z" fill="#0000ff"/>
<path d="M993.6,496.0 L980.6,519.1 L993.6,519.1 Z" fill="none" stroke="#7070ff" stroke-width="1.8" stroke-linejoin="miter"/><path d="M993.6,495.5 L1007.6,520.0 L993.6,520.0 Z" fill="#0000ff"/>
<path d="M1018.1,471.0 L1005.1,494.1 L1018.1,494.1 Z" fill="none" stroke="#7070ff" stroke-width="1.8" stroke-linejoin="miter"/><path d="M1018.1,470.5 L1032.1,495.0 L1018.1,495.0 Z" fill="#0000ff"/>
<path d="M1042.7,446.7 L1029.7,469.8 L1042.7,469.8 Z" fill="none" stroke="#7070ff" stroke-width="1.8" stroke-linejoin="miter"/><path d="M1042.7,446.2 L1056.7,470.7 L1042.7,470.7 Z" fill="#0000ff"/>
<path d="M1067.2,423.5 L1054.2,446.6 L1067.2,446.6 Z" fill="none" stroke="#7070ff" stroke-width="1.8" stroke-linejoin="miter"/><path d="M1067.2,423.0 L1081.2,447.5 L1067.2,447.5 Z" fill="#0000ff"/>
<path d="M1091.8,399.0 L1078.8,422.1 L1091.8,422.1 Z" fill="none" stroke="#7070ff" stroke-width="1.8" stroke-linejoin="miter"/><path d="M1091.8,398.5 L1105.8,423.0 L1091.8,423.0 Z" fill="#0000ff"/>
<path d="M1116.4,373.5 L1103.4,396.6 L1116.4,396.6 Z" fill="none" stroke="#7070ff" stroke-width="1.8" stroke-linejoin="miter"/><path d="M1116.4,373.0 L1130.4,397.5 L1116.4,397.5 Z" fill="#0000ff"/>
<path d="M1140.9,350.0 L1127.9,373.1 L1140.9,373.1 Z" fill="none" stroke="#7070ff" stroke-width="1.8" stroke-linejoin="miter"/><path d="M1140.9,349.5 L1154.9,374.0 L1140.9,374.0 Z" fill="#0000ff"/>
<path d="M1165.5,327.0 L1152.5,350.1 L1165.5,350.1 Z" fill="none" stroke="#7070ff" stroke-width="1.8" stroke-linejoin="miter"/><path d="M1165.5,326.5 L1179.5,351.0 L1165.5,351.0 Z" fill="#0000ff"/>
<path d="M1190.0,307.5 L1177.0,330.6 L1190.0,330.6 Z" fill="none" stroke="#7070ff" stroke-width="1.8" stroke-linejoin="miter"/><path d="M1190.0,307.0 L1204.0,331.5 L1190.0,331.5 Z" fill="#0000ff"/>
<path d="M1214.6,279.5 L1201.6,302.6 L1214.6,302.6 Z" fill="none" stroke="#7070ff" stroke-width="1.8" stroke-linejoin="miter"/><path d="M1214.6,279.0 L1228.6,303.5 L1214.6,303.5 Z" fill="#0000ff"/>
<path d="M1239.2,259.0 L1226.2,282.1 L1239.2,282.1 Z" fill="none" stroke="#7070ff" stroke-width="1.8" stroke-linejoin="miter"/><path d="M1239.2,258.5 L1253.2,283.0 L1239.2,283.0 Z" fill="#0000ff"/>
<path d="M1263.7,240.0 L1250.7,263.1 L1263.7,263.1 Z" fill="none" stroke="#7070ff" stroke-width="1.8" stroke-linejoin="miter"/><path d="M1263.7,239.5 L1277.7,264.0 L1263.7,264.0 Z" fill="#0000ff"/>
<path d="M1288.3,220.5 L1275.3,243.6 L1288.3,243.6 Z" fill="none" stroke="#7070ff" stroke-width="1.8" stroke-linejoin="miter"/><path d="M1288.3,220.0 L1302.3,244.5 L1288.3,244.5 Z" fill="#0000ff"/>
<path d="M1312.8,199.0 L1299.8,222.1 L1312.8,222.1 Z" fill="none" stroke="#7070ff" stroke-width="1.8" stroke-linejoin="miter"/><path d="M1312.8,198.5 L1326.8,223.0 L1312.8,223.0 Z" fill="#0000ff"/>
<path d="M1337.4,182.3 L1324.4,205.4 L1337.4,205.4 Z" fill="none" stroke="#7070ff" stroke-width="1.8" stroke-linejoin="miter"/><path d="M1337.4,181.8 L1351.4,206.3 L1337.4,206.3 Z" fill="#0000ff"/>
<path d="M1362.0,167.0 L1349.0,190.1 L1362.0,190.1 Z" fill="none" stroke="#7070ff" stroke-width="1.8" stroke-linejoin="miter"/><path d="M1362.0,166.5 L1376.0,191.0 L1362.0,191.0 Z" fill="#0000ff"/>
<path d="M1386.5,152.5 L1373.5,175.6 L1386.5,175.6 Z" fill="none" stroke="#7070ff" stroke-width="1.8" stroke-linejoin="miter"/><path d="M1386.5,152.0 L1400.5,176.5 L1386.5,176.5 Z" fill="#0000ff"/>
<path d="M1411.1,135.2 L1398.1,158.3 L1411.1,158.3 Z" fill="none" stroke="#7070ff" stroke-width="1.8" stroke-linejoin="miter"/><path d="M1411.1,134.7 L1425.1,159.2 L1411.1,159.2 Z" fill="#0000ff"/>
<path d="M1435.6,363.5 L1422.6,386.6 L1435.6,386.6 Z" fill="none" stroke="#7070ff" stroke-width="1.8" stroke-linejoin="miter"/><path d="M1435.6,363.0 L1449.6,387.5 L1435.6,387.5 Z" fill="#0000ff"/>
<path d="M1460.2,606.4 L1447.2,629.5 L1460.2,629.5 Z" fill="none" stroke="#7070ff" stroke-width="1.8" stroke-linejoin="miter"/><path d="M1460.2,605.9 L1474.2,630.4 L1460.2,630.4 Z" fill="#0000ff"/>
<path d="M1484.8,608.0 L1471.8,631.1 L1484.8,631.1 Z" fill="none" stroke="#7070ff" stroke-width="1.8" stroke-linejoin="miter"/><path d="M1484.8,607.5 L1498.8,632.0 L1484.8,632.0 Z" fill="#0000ff"/>
<path d="M1509.3,609.2 L1496.3,632.3 L1509.3,632.3 Z" fill="none" stroke="#7070ff" stroke-width="1.8" stroke-linejoin="miter"/><path d="M1509.3,608.7 L1523.3,633.2 L1509.3,633.2 Z" fill="#0000ff"/>
<path d="M1533.9,612.8 L1520.9,635.9 L1533.9,635.9 Z" fill="none" stroke="#7070ff" stroke-width="1.8" stroke-linejoin="miter"/><path d="M1533.9,612.3 L1547.9,636.8 L1533.9,636.8 Z" fill="#0000ff"/>
<path d="M1558.4,620.4 L1545.4,643.5 L1558.4,643.5 Z" fill="none" stroke="#7070ff" stroke-width="1.8" stroke-linejoin="miter"/><path d="M1558.4,619.9 L1572.4,644.4 L1558.4,644.4 Z" fill="#0000ff"/>
<path d="M1583.0,633.5 L1570.0,656.6 L1583.0,656.6 Z" fill="none" stroke="#7070ff" stroke-width="1.8" stroke-linejoin="miter"/><path d="M1583.0,633.0 L1597.0,657.5 L1583.0,657.5 Z" fill="#0000ff"/>
<path d="M1607.6,647.7 L1594.6,670.8 L1607.6,670.8 Z" fill="none" stroke="#7070ff" stroke-width="1.8" stroke-linejoin="miter"/><path d="M1607.6,647.2 L1621.6,671.7 L1607.6,671.7 Z" fill="#0000ff"/>
<path d="M1632.1,666.3 L1619.1,689.4 L1632.1,689.4 Z" fill="none" stroke="#7070ff" stroke-width="1.8" stroke-linejoin="miter"/><path d="M1632.1,665.8 L1646.1,690.3 L1632.1,690.3 Z" fill="#0000ff"/>
<path d="M1656.7,697.9 L1643.7,721.0 L1656.7,721.0 Z" fill="none" stroke="#7070ff" stroke-width="1.8" stroke-linejoin="miter"/><path d="M1656.7,697.4 L1670.7,721.9 L1656.7,721.9 Z" fill="#0000ff"/>
<path d="M1681.2,771.0 L1668.2,794.1 L1681.2,794.1 Z" fill="none" stroke="#7070ff" stroke-width="1.8" stroke-linejoin="miter"/><path d="M1681.2,770.5 L1695.2,795.0 L1681.2,795.0 Z" fill="#0000ff"/>
<path d="M1705.8,798.0 L1692.8,821.1 L1705.8,821.1 Z" fill="none" stroke="#7070ff" stroke-width="1.8" stroke-linejoin="miter"/><path d="M1705.8,797.5 L1719.8,822.0 L1705.8,822.0 Z" fill="#0000ff"/>
<path d="M1730.4,818.0 L1717.4,841.1 L1730.4,841.1 Z" fill="none" stroke="#7070ff" stroke-width="1.8" stroke-linejoin="miter"/><path d="M1730.4,817.5 L1744.4,842.0 L1730.4,842.0 Z" fill="#0000ff"/>
<path d="M1754.9,838.0 L1741.9,861.1 L1754.9,861.1 Z" fill="none" stroke="#7070ff" stroke-width="1.8" stroke-linejoin="miter"/><path d="M1754.9,837.5 L1768.9,862.0 L1754.9,862.0 Z" fill="#0000ff"/>
<path d="M1779.5,860.7 L1766.5,883.8 L1779.5,883.8 Z" fill="none" stroke="#7070ff" stroke-width="1.8" stroke-linejoin="miter"/><path d="M1779.5,860.2 L1793.5,884.7 L1779.5,884.7 Z" fill="#0000ff"/>
<path d="M1804.0,886.0 L1791.0,909.1 L1804.0,909.1 Z" fill="none" stroke="#7070ff" stroke-width="1.8" stroke-linejoin="miter"/><path d="M1804.0,885.5 L1818.0,910.0 L1804.0,910.0 Z" fill="#0000ff"/>
<path d="M1828.6,919.5 L1815.6,942.6 L1828.6,942.6 Z" fill="none" stroke="#7070ff" stroke-width="1.8" stroke-linejoin="miter"/><path d="M1828.6,919.0 L1842.6,943.5 L1828.6,943.5 Z" fill="#0000ff"/>
<path d="M1853.2,1245.0 L1840.2,1268.1 L1853.2,1268.1 Z" fill="none" stroke="#7070ff" stroke-width="1.8" stroke-linejoin="miter"/><path d="M1853.2,1244.5 L1867.2,1269.0 L1853.2,1269.0 Z" fill="#0000ff"/>
<path d="M1877.7,1248.5 L1864.7,1271.6 L1877.7,1271.6 Z" fill="none" stroke="#7070ff" stroke-width="1.8" stroke-linejoin="miter"/><path d="M1877.7,1248.0 L1891.7,1272.5 L1877.7,1272.5 Z" fill="#0000ff"/>
<path d="M1902.3,1249.0 L1889.3,1272.1 L1902.3,1272.1 Z" fill="none" stroke="#7070ff" stroke-width="1.8" stroke-linejoin="miter"/><path d="M1902.3,1248.5 L1916.3,1273.0 L1902.3,1273.0 Z" fill="#0000ff"/>
<path d="M1926.8,1250.5 L1913.8,1273.6 L1926.8,1273.6 Z" fill="none" stroke="#7070ff" stroke-width="1.8" stroke-linejoin="miter"/><path d="M1926.8,1250.0 L1940.8,1274.5 L1926.8,1274.5 Z" fill="#0000ff"/>
<path d="M1951.4,1251.5 L1938.4,1274.6 L1951.4,1274.6 Z" fill="none" stroke="#7070ff" stroke-width="1.8" stroke-linejoin="miter"/><path d="M1951.4,1251.0 L1965.4,1275.5 L1951.4,1275.5 Z" fill="#0000ff"/>
<polyline points="355.0,1301.6 379.2,1286.6 403.5,1266.0 427.7,1222.0 451.9,1160.0 476.1,1095.0 500.4,1035.0 524.6,988.0 548.8,945.0 573.1,911.0 597.3,880.0 621.5,847.0 645.8,813.0 670.0,780.0 694.2,747.0 718.5,714.0 742.7,681.5 766.9,650.0 791.1,616.5 815.4,585.0 839.6,549.0 863.8,515.0 888.1,483.3 912.3,459.9 936.5,436.4 960.8,413.0 985.0,388.0 1009.2,363.0 1033.4,341.1 1057.7,319.3 1081.9,297.5 1106.1,277.5 1130.4,256.5 1154.6,239.0 1178.8,222.0 1203.1,201.5 1227.3,187.4 1251.5,170.0 1275.7,159.4 1284.5,156.0 1286.5,168.3 1289.5,250.0 1292.5,330.0 1294.0,388.0 1300.0,397.5 1324.2,426.5 1335.0,449.4 1340.5,462.4 1343.8,553.5 1347.0,605.6 1348.4,613.5 1372.7,642.0 1382.8,646.8 1391.5,672.8 1396.9,679.0 1421.1,701.0 1445.3,713.0 1469.6,729.5 1476.5,737.4 1490.0,760.0 1493.8,770.5 1518.0,798.5 1542.3,812.6 1566.5,824.0 1590.7,838.5 1615.0,855.0 1639.2,873.0 1663.4,895.0 1687.7,920.5 1711.9,968.0 1716.2,986.3 1722.7,1030.7 1729.3,1093.5 1736.1,1111.7 1748.9,1135.3 1754.1,1143.1 1755.4,1273.8 1760.3,1279.5 1784.6,1279.5 1808.8,1279.5 1833.0,1279.5 1857.3,1279.5 1880.5,1279.0" fill="none" stroke="#ff00ff" stroke-width="4.6" stroke-linejoin="round" stroke-linecap="round"/>
<path d="M355.0,1317.6 L342.0,1294.5 L355.0,1294.5 Z" fill="none" stroke="#ff70ff" stroke-width="1.8" stroke-linejoin="miter"/><path d="M355.0,1318.1 L369.0,1293.6 L355.0,1293.6 Z" fill="#ff00ff"/>
<path d="M379.2,1302.6 L366.2,1279.5 L379.2,1279.5 Z" fill="none" stroke="#ff70ff" stroke-width="1.8" stroke-linejoin="miter"/><path d="M379.2,1303.1 L393.2,1278.6 L379.2,1278.6 Z" fill="#ff00ff"/>
<path d="M403.5,1282.0 L390.5,1258.9 L403.5,1258.9 Z" fill="none" stroke="#ff70ff" stroke-width="1.8" stroke-linejoin="miter"/><path d="M403.5,1282.5 L417.5,1258.0 L403.5,1258.0 Z" fill="#ff00ff"/>
<path d="M427.7,1238.0 L414.7,1214.9 L427.7,1214.9 Z" fill="none" stroke="#ff70ff" stroke-width="1.8" stroke-linejoin="miter"/><path d="M427.7,1238.5 L441.7,1214.0 L427.7,1214.0 Z" fill="#ff00ff"/>
<path d="M451.9,1176.0 L438.9,1152.9 L451.9,1152.9 Z" fill="none" stroke="#ff70ff" stroke-width="1.8" stroke-linejoin="miter"/><path d="M451.9,1176.5 L465.9,1152.0 L451.9,1152.0 Z" fill="#ff00ff"/>
<path d="M476.1,1111.0 L463.1,1087.9 L476.1,1087.9 Z" fill="none" stroke="#ff70ff" stroke-width="1.8" stroke-linejoin="miter"/><path d="M476.1,1111.5 L490.1,1087.0 L476.1,1087.0 Z" fill="#ff00ff"/>
<path d="M500.4,1051.0 L487.4,1027.9 L500.4,1027.9 Z" fill="none" stroke="#ff70ff" stroke-width="1.8" stroke-linejoin="miter"/><path d="M500.4,1051.5 L514.4,1027.0 L500.4,1027.0 Z" fill="#ff00ff"/>
<path d="M524.6,1004.0 L511.6,980.9 L524.6,980.9 Z" fill="none" stroke="#ff70ff" stroke-width="1.8" stroke-linejoin="miter"/><path d="M524.6,1004.5 L538.6,980.0 L524.6,980.0 Z" fill="#ff00ff"/>
<path d="M548.8,961.0 L535.8,937.9 L548.8,937.9 Z" fill="none" stroke="#ff70ff" stroke-width="1.8" stroke-linejoin="miter"/><path d="M548.8,961.5 L562.8,937.0 L548.8,937.0 Z" fill="#ff00ff"/>
<path d="M573.1,927.0 L560.1,903.9 L573.1,903.9 Z" fill="none" stroke="#ff70ff" stroke-width="1.8" stroke-linejoin="miter"/><path d="M573.1,927.5 L587.1,903.0 L573.1,903.0 Z" fill="#ff00ff"/>
<path d="M597.3,896.0 L584.3,872.9 L597.3,872.9 Z" fill="none" stroke="#ff70ff" stroke-width="1.8" stroke-linejoin="miter"/><path d="M597.3,896.5 L611.3,872.0 L597.3,872.0 Z" fill="#ff00ff"/>
<path d="M621.5,863.0 L608.5,839.9 L621.5,839.9 Z" fill="none" stroke="#ff70ff" stroke-width="1.8" stroke-linejoin="miter"/><path d="M621.5,863.5 L635.5,839.0 L621.5,839.0 Z" fill="#ff00ff"/>
<path d="M645.8,829.0 L632.8,805.9 L645.8,805.9 Z" fill="none" stroke="#ff70ff" stroke-width="1.8" stroke-linejoin="miter"/><path d="M645.8,829.5 L659.8,805.0 L645.8,805.0 Z" fill="#ff00ff"/>
<path d="M670.0,796.0 L657.0,772.9 L670.0,772.9 Z" fill="none" stroke="#ff70ff" stroke-width="1.8" stroke-linejoin="miter"/><path d="M670.0,796.5 L684.0,772.0 L670.0,772.0 Z" fill="#ff00ff"/>
<path d="M694.2,763.0 L681.2,739.9 L694.2,739.9 Z" fill="none" stroke="#ff70ff" stroke-width="1.8" stroke-linejoin="miter"/><path d="M694.2,763.5 L708.2,739.0 L694.2,739.0 Z" fill="#ff00ff"/>
<path d="M718.5,730.0 L705.5,706.9 L718.5,706.9 Z" fill="none" stroke="#ff70ff" stroke-width="1.8" stroke-linejoin="miter"/><path d="M718.5,730.5 L732.5,706.0 L718.5,706.0 Z" fill="#ff00ff"/>
<path d="M742.7,697.5 L729.7,674.4 L742.7,674.4 Z" fill="none" stroke="#ff70ff" stroke-width="1.8" stroke-linejoin="miter"/><path d="M742.7,698.0 L756.7,673.5 L742.7,673.5 Z" fill="#ff00ff"/>
<path d="M766.9,666.0 L753.9,642.9 L766.9,642.9 Z" fill="none" stroke="#ff70ff" stroke-width="1.8" stroke-linejoin="miter"/><path d="M766.9,666.5 L780.9,642.0 L766.9,642.0 Z" fill="#ff00ff"/>
<path d="M791.1,632.5 L778.1,609.4 L791.1,609.4 Z" fill="none" stroke="#ff70ff" stroke-width="1.8" stroke-linejoin="miter"/><path d="M791.1,633.0 L805.1,608.5 L791.1,608.5 Z" fill="#ff00ff"/>
<path d="M815.4,601.0 L802.4,577.9 L815.4,577.9 Z" fill="none" stroke="#ff70ff" stroke-width="1.8" stroke-linejoin="miter"/><path d="M815.4,601.5 L829.4,577.0 L815.4,577.0 Z" fill="#ff00ff"/>
<path d="M839.6,565.0 L826.6,541.9 L839.6,541.9 Z" fill="none" stroke="#ff70ff" stroke-width="1.8" stroke-linejoin="miter"/><path d="M839.6,565.5 L853.6,541.0 L839.6,541.0 Z" fill="#ff00ff"/>
<path d="M863.8,531.0 L850.8,507.9 L863.8,507.9 Z" fill="none" stroke="#ff70ff" stroke-width="1.8" stroke-linejoin="miter"/><path d="M863.8,531.5 L877.8,507.0 L863.8,507.0 Z" fill="#ff00ff"/>
<path d="M888.1,499.3 L875.1,476.2 L888.1,476.2 Z" fill="none" stroke="#ff70ff" stroke-width="1.8" stroke-linejoin="miter"/><path d="M888.1,499.8 L902.1,475.3 L888.1,475.3 Z" fill="#ff00ff"/>
<path d="M912.3,475.9 L899.3,452.8 L912.3,452.8 Z" fill="none" stroke="#ff70ff" stroke-width="1.8" stroke-linejoin="miter"/><path d="M912.3,476.4 L926.3,451.9 L912.3,451.9 Z" fill="#ff00ff"/>
<path d="M936.5,452.4 L923.5,429.3 L936.5,429.3 Z" fill="none" stroke="#ff70ff" stroke-width="1.8" stroke-linejoin="miter"/><path d="M936.5,452.9 L950.5,428.4 L936.5,428.4 Z" fill="#ff00ff"/>
<path d="M960.8,429.0 L947.8,405.9 L960.8,405.9 Z" fill="none" stroke="#ff70ff" stroke-width="1.8" stroke-linejoin="miter"/><path d="M960.8,429.5 L974.8,405.0 L960.8,405.0 Z" fill="#ff00ff"/>
<path d="M985.0,404.0 L972.0,380.9 L985.0,380.9 Z" fill="none" stroke="#ff70ff" stroke-width="1.8" stroke-linejoin="miter"/><path d="M985.0,404.5 L999.0,380.0 L985.0,380.0 Z" fill="#ff00ff"/>
<path d="M1009.2,379.0 L996.2,355.9 L1009.2,355.9 Z" fill="none" stroke="#ff70ff" stroke-width="1.8" stroke-linejoin="miter"/><path d="M1009.2,379.5 L1023.2,355.0 L1009.2,355.0 Z" fill="#ff00ff"/>
<path d="M1033.4,357.1 L1020.4,334.0 L1033.4,334.0 Z" fill="none" stroke="#ff70ff" stroke-width="1.8" stroke-linejoin="miter"/><path d="M1033.4,357.6 L1047.4,333.1 L1033.4,333.1 Z" fill="#ff00ff"/>
<path d="M1057.7,335.3 L1044.7,312.2 L1057.7,312.2 Z" fill="none" stroke="#ff70ff" stroke-width="1.8" stroke-linejoin="miter"/><path d="M1057.7,335.8 L1071.7,311.3 L1057.7,311.3 Z" fill="#ff00ff"/>
<path d="M1081.9,313.5 L1068.9,290.4 L1081.9,290.4 Z" fill="none" stroke="#ff70ff" stroke-width="1.8" stroke-linejoin="miter"/><path d="M1081.9,314.0 L1095.9,289.5 L1081.9,289.5 Z" fill="#ff00ff"/>
<path d="M1106.1,293.5 L1093.1,270.4 L1106.1,270.4 Z" fill="none" stroke="#ff70ff" stroke-width="1.8" stroke-linejoin="miter"/><path d="M1106.1,294.0 L1120.1,269.5 L1106.1,269.5 Z" fill="#ff00ff"/>
<path d="M1130.4,272.5 L1117.4,249.4 L1130.4,249.4 Z" fill="none" stroke="#ff70ff" stroke-width="1.8" stroke-linejoin="miter"/><path d="M1130.4,273.0 L1144.4,248.5 L1130.4,248.5 Z" fill="#ff00ff"/>
<path d="M1154.6,255.0 L1141.6,231.9 L1154.6,231.9 Z" fill="none" stroke="#ff70ff" stroke-width="1.8" stroke-linejoin="miter"/><path d="M1154.6,255.5 L1168.6,231.0 L1154.6,231.0 Z" fill="#ff00ff"/>
<path d="M1178.8,238.0 L1165.8,214.9 L1178.8,214.9 Z" fill="none" stroke="#ff70ff" stroke-width="1.8" stroke-linejoin="miter"/><path d="M1178.8,238.5 L1192.8,214.0 L1178.8,214.0 Z" fill="#ff00ff"/>
<path d="M1203.1,217.5 L1190.1,194.4 L1203.1,194.4 Z" fill="none" stroke="#ff70ff" stroke-width="1.8" stroke-linejoin="miter"/><path d="M1203.1,218.0 L1217.1,193.5 L1203.1,193.5 Z" fill="#ff00ff"/>
<path d="M1227.3,203.4 L1214.3,180.3 L1227.3,180.3 Z" fill="none" stroke="#ff70ff" stroke-width="1.8" stroke-linejoin="miter"/><path d="M1227.3,203.9 L1241.3,179.4 L1227.3,179.4 Z" fill="#ff00ff"/>
<path d="M1251.5,186.0 L1238.5,162.9 L1251.5,162.9 Z" fill="none" stroke="#ff70ff" stroke-width="1.8" stroke-linejoin="miter"/><path d="M1251.5,186.5 L1265.5,162.0 L1251.5,162.0 Z" fill="#ff00ff"/>
<path d="M1275.7,175.4 L1262.7,152.3 L1275.7,152.3 Z" fill="none" stroke="#ff70ff" stroke-width="1.8" stroke-linejoin="miter"/><path d="M1275.7,175.9 L1289.7,151.4 L1275.7,151.4 Z" fill="#ff00ff"/>
<path d="M1300.0,413.5 L1287.0,390.4 L1300.0,390.4 Z" fill="none" stroke="#ff70ff" stroke-width="1.8" stroke-linejoin="miter"/><path d="M1300.0,414.0 L1314.0,389.5 L1300.0,389.5 Z" fill="#ff00ff"/>
<path d="M1324.2,442.5 L1311.2,419.4 L1324.2,419.4 Z" fill="none" stroke="#ff70ff" stroke-width="1.8" stroke-linejoin="miter"/><path d="M1324.2,443.0 L1338.2,418.5 L1324.2,418.5 Z" fill="#ff00ff"/>
<path d="M1348.4,629.5 L1335.4,606.4 L1348.4,606.4 Z" fill="none" stroke="#ff70ff" stroke-width="1.8" stroke-linejoin="miter"/><path d="M1348.4,630.0 L1362.4,605.5 L1348.4,605.5 Z" fill="#ff00ff"/>
<path d="M1372.7,658.0 L1359.7,634.9 L1372.7,634.9 Z" fill="none" stroke="#ff70ff" stroke-width="1.8" stroke-linejoin="miter"/><path d="M1372.7,658.5 L1386.7,634.0 L1372.7,634.0 Z" fill="#ff00ff"/>
<path d="M1396.9,695.0 L1383.9,671.9 L1396.9,671.9 Z" fill="none" stroke="#ff70ff" stroke-width="1.8" stroke-linejoin="miter"/><path d="M1396.9,695.5 L1410.9,671.0 L1396.9,671.0 Z" fill="#ff00ff"/>
<path d="M1421.1,717.0 L1408.1,693.9 L1421.1,693.9 Z" fill="none" stroke="#ff70ff" stroke-width="1.8" stroke-linejoin="miter"/><path d="M1421.1,717.5 L1435.1,693.0 L1421.1,693.0 Z" fill="#ff00ff"/>
<path d="M1445.3,729.0 L1432.3,705.9 L1445.3,705.9 Z" fill="none" stroke="#ff70ff" stroke-width="1.8" stroke-linejoin="miter"/><path d="M1445.3,729.5 L1459.3,705.0 L1445.3,705.0 Z" fill="#ff00ff"/>
<path d="M1469.6,745.5 L1456.6,722.4 L1469.6,722.4 Z" fill="none" stroke="#ff70ff" stroke-width="1.8" stroke-linejoin="miter"/><path d="M1469.6,746.0 L1483.6,721.5 L1469.6,721.5 Z" fill="#ff00ff"/>
<path d="M1493.8,786.5 L1480.8,763.4 L1493.8,763.4 Z" fill="none" stroke="#ff70ff" stroke-width="1.8" stroke-linejoin="miter"/><path d="M1493.8,787.0 L1507.8,762.5 L1493.8,762.5 Z" fill="#ff00ff"/>
<path d="M1518.0,814.5 L1505.0,791.4 L1518.0,791.4 Z" fill="none" stroke="#ff70ff" stroke-width="1.8" stroke-linejoin="miter"/><path d="M1518.0,815.0 L1532.0,790.5 L1518.0,790.5 Z" fill="#ff00ff"/>
<path d="M1542.3,828.6 L1529.3,805.5 L1542.3,805.5 Z" fill="none" stroke="#ff70ff" stroke-width="1.8" stroke-linejoin="miter"/><path d="M1542.3,829.1 L1556.3,804.6 L1542.3,804.6 Z" fill="#ff00ff"/>
<path d="M1566.5,840.0 L1553.5,816.9 L1566.5,816.9 Z" fill="none" stroke="#ff70ff" stroke-width="1.8" stroke-linejoin="miter"/><path d="M1566.5,840.5 L1580.5,816.0 L1566.5,816.0 Z" fill="#ff00ff"/>
<path d="M1590.7,854.5 L1577.7,831.4 L1590.7,831.4 Z" fill="none" stroke="#ff70ff" stroke-width="1.8" stroke-linejoin="miter"/><path d="M1590.7,855.0 L1604.7,830.5 L1590.7,830.5 Z" fill="#ff00ff"/>
<path d="M1615.0,871.0 L1602.0,847.9 L1615.0,847.9 Z" fill="none" stroke="#ff70ff" stroke-width="1.8" stroke-linejoin="miter"/><path d="M1615.0,871.5 L1629.0,847.0 L1615.0,847.0 Z" fill="#ff00ff"/>
<path d="M1639.2,889.0 L1626.2,865.9 L1639.2,865.9 Z" fill="none" stroke="#ff70ff" stroke-width="1.8" stroke-linejoin="miter"/><path d="M1639.2,889.5 L1653.2,865.0 L1639.2,865.0 Z" fill="#ff00ff"/>
<path d="M1663.4,911.0 L1650.4,887.9 L1663.4,887.9 Z" fill="none" stroke="#ff70ff" stroke-width="1.8" stroke-linejoin="miter"/><path d="M1663.4,911.5 L1677.4,887.0 L1663.4,887.0 Z" fill="#ff00ff"/>
<path d="M1687.7,936.5 L1674.7,913.4 L1687.7,913.4 Z" fill="none" stroke="#ff70ff" stroke-width="1.8" stroke-linejoin="miter"/><path d="M1687.7,937.0 L1701.7,912.5 L1687.7,912.5 Z" fill="#ff00ff"/>
<path d="M1711.9,984.0 L1698.9,960.9 L1711.9,960.9 Z" fill="none" stroke="#ff70ff" stroke-width="1.8" stroke-linejoin="miter"/><path d="M1711.9,984.5 L1725.9,960.0 L1711.9,960.0 Z" fill="#ff00ff"/>
<path d="M1736.1,1127.7 L1723.1,1104.6 L1736.1,1104.6 Z" fill="none" stroke="#ff70ff" stroke-width="1.8" stroke-linejoin="miter"/><path d="M1736.1,1128.2 L1750.1,1103.7 L1736.1,1103.7 Z" fill="#ff00ff"/>
<path d="M1760.3,1295.5 L1747.3,1272.4 L1760.3,1272.4 Z" fill="none" stroke="#ff70ff" stroke-width="1.8" stroke-linejoin="miter"/><path d="M1760.3,1296.0 L1774.3,1271.5 L1760.3,1271.5 Z" fill="#ff00ff"/>
<path d="M1784.6,1295.5 L1771.6,1272.4 L1784.6,1272.4 Z" fill="none" stroke="#ff70ff" stroke-width="1.8" stroke-linejoin="miter"/><path d="M1784.6,1296.0 L1798.6,1271.5 L1784.6,1271.5 Z" fill="#ff00ff"/>
<path d="M1808.8,1295.5 L1795.8,1272.4 L1808.8,1272.4 Z" fill="none" stroke="#ff70ff" stroke-width="1.8" stroke-linejoin="miter"/><path d="M1808.8,1296.0 L1822.8,1271.5 L1808.8,1271.5 Z" fill="#ff00ff"/>
<path d="M1833.0,1295.5 L1820.0,1272.4 L1833.0,1272.4 Z" fill="none" stroke="#ff70ff" stroke-width="1.8" stroke-linejoin="miter"/><path d="M1833.0,1296.0 L1847.0,1271.5 L1833.0,1271.5 Z" fill="#ff00ff"/>
<path d="M1857.3,1295.5 L1844.3,1272.4 L1857.3,1272.4 Z" fill="none" stroke="#ff70ff" stroke-width="1.8" stroke-linejoin="miter"/><path d="M1857.3,1296.0 L1871.3,1271.5 L1857.3,1271.5 Z" fill="#ff00ff"/></svg>
</div></body></html>
